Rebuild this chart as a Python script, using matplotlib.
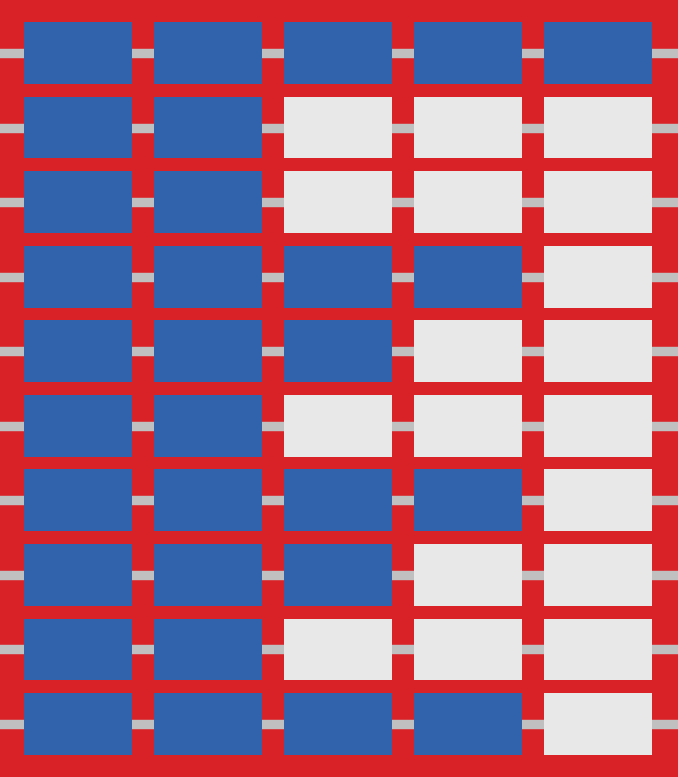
import matplotlib.pyplot as plt
from matplotlib.patches import Rectangle

# blue cells per row, top to bottom
filled = [5, 2, 2, 4, 3, 2, 4, 3, 2, 4]
n_cols = 5

red = '#D92128'
blue = '#3063AC'
empty = '#E8E8E8'
line_gray = '#C0C0C0'

fig = plt.figure(figsize=(6.78, 7.77), dpi=100, facecolor=red)
ax = fig.add_axes([0, 0, 1, 1])
ax.set_facecolor(red)

n_rows = len(filled)
w = 0.83
h = 0.83
for r, k in enumerate(filled):
    ax.axhline(r, color=line_gray, lw=6.8, zorder=1)
    for c in range(n_cols):
        col = blue if c < k else empty
        ax.add_patch(Rectangle((c - w / 2, r - h / 2), w, h, facecolor=col,
                               edgecolor='none', zorder=2))

ax.set_xlim(-0.6, n_cols - 1 + 0.615)
ax.set_ylim(n_rows - 1 + 0.71, -0.71)
ax.axis('off')

fig.savefig('out.png', dpi=100, facecolor=red)
